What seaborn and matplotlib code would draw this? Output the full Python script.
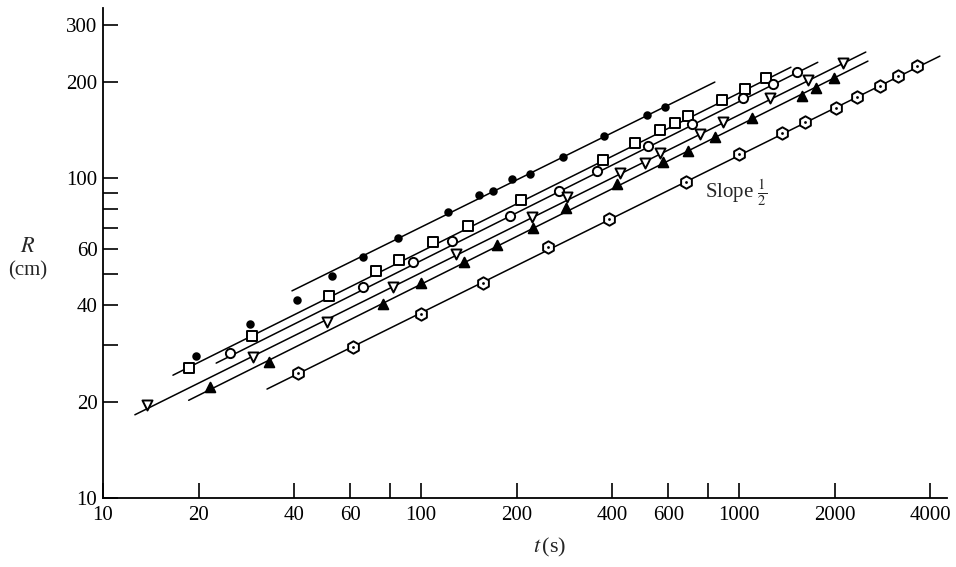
import numpy as np
import pandas as pd
import matplotlib
matplotlib.use("Agg")
import matplotlib.pyplot as plt
from matplotlib.ticker import FixedLocator, FixedFormatter, NullLocator
import seaborn as sns

# --- data: time t (s) and radius R (cm) ---
dots_t = [19.6, 29.0, 40.7, 52.5, 65.7, 84.7, 122, 152, 168, 194, 220, 280, 376, 514, 585]
dots_R = [27.8, 35.0, 41.6, 49.4, 56.6, 64.9, 78.3, 88.5, 91.0, 99.3, 103, 116, 135, 157, 167]

squares_t = [18.6, 29.4, 51.4, 72.2, 85.3, 109, 141, 206, 373, 471, 564, 629, 691, 884, 1044, 1216]
squares_R = [25.5, 32.1, 42.8, 51.2, 55.5, 63.1, 70.8, 85.3, 113.7, 128.5, 141.3, 148.6, 156.3, 175.4, 189.8, 205.4]

circles_t = [25.1, 65.7, 94.4, 125, 190, 272, 358, 518, 711, 1029, 1279, 1522]
circles_R = [28.4, 45.6, 54.6, 63.5, 76.0, 91.0, 105, 125.9, 147.5, 177.8, 196.6, 214]

tri_down_t = [13.75, 29.6, 50.6, 81.7, 129, 223, 288, 422, 506, 564, 753, 890, 1252, 1648, 2123]
tri_down_R = [19.5, 27.6, 35.5, 45.6, 57.9, 75.5, 87.2, 103.6, 111.4, 119.8, 137.2, 149.6, 177.8, 202.5, 228.5]

tri_up_t = [21.7, 33.3, 76.0, 100, 136.5, 173, 225, 286, 413, 577, 691, 840, 1099, 1578, 1747, 1990]
tri_up_R = [22.2, 26.6, 40.4, 47.0, 54.6, 61.7, 69.8, 80.6, 95.7, 112.2, 121.4, 134.4, 154, 180.4, 191, 205.4]

hex_t = [41.0, 61.1, 100, 157, 251, 390, 681, 1000, 1365, 1613, 2018, 2350, 2776, 3162, 3631]
hex_R = [24.6, 29.6, 37.6, 47.0, 60.8, 74.5, 97.2, 118.9, 138.2, 149.6, 165.5, 179.2, 194, 208.4, 224]

# fitted slope-1/2 lines: end points (t, R)
line_dots = ([39.3, 840], [44.4, 199.5])
line_squares = ([16.6, 1457], [24.2, 222])
line_circles = ([22.7, 1770], [26.4, 230])
line_tri_down = ([12.6, 2506], [18.2, 247.6])
line_tri_up = ([18.6, 2545], [20.2, 232])
line_hex = ([32.8, 4285], [21.9, 240.5])

x_ticks = [10, 20, 40, 60, 80, 100, 200, 400, 600, 800, 1000, 2000, 4000]
x_labels = ["10", "20", "40", "60", "", "100", "200", "400", "600", "", "1000", "2000", "4000"]
y_ticks = [10, 20, 30, 40, 50, 60, 70, 80, 90, 100, 200, 300]
y_labels = ["10", "20", "", "40", "", "60", "", "", "", "100", "200", "300"]


def main():
    sns.set_style("ticks")
    plt.rcParams["font.family"] = ["Liberation Serif", "DejaVu Serif"]
    plt.rcParams["mathtext.fontset"] = "stix"

    fig = plt.figure(figsize=(9.56, 5.67), dpi=100)
    ax = fig.add_axes([0.1077, 0.1217, 0.8825, 0.8642])

    # lines first, markers on top
    for lx, ly in [line_dots, line_squares, line_circles, line_tri_down, line_tri_up, line_hex]:
        sns.lineplot(x=lx, y=ly, color="black", linewidth=1.1, ax=ax, zorder=2)

    marker_specs = [
        (dots_t, dots_R, "o", 22, "black"),
        (squares_t, squares_R, "s", 48, "white"),
        (circles_t, circles_R, "o", 44, "white"),
        (tri_down_t, tri_down_R, "v", 52, "white"),
        (tri_up_t, tri_up_R, "^", 48, "black"),
        (hex_t, hex_R, "h", 80, "white"),
    ]
    for tx, ry, mk, size, face in marker_specs:
        sns.scatterplot(x=tx, y=ry, marker=mk, s=size, facecolor=face,
                        edgecolor="black", linewidth=1.4, ax=ax, zorder=3)
    # centre dot of the hexagon markers
    sns.scatterplot(x=hex_t, y=hex_R, marker="o", s=4, color="black",
                    edgecolor="black", linewidth=0, ax=ax, zorder=4)

    ax.set_xscale("log")
    ax.set_yscale("log")
    ax.set_xlim(10, 4500)
    ax.set_ylim(10, 340)

    ax.xaxis.set_major_locator(FixedLocator(x_ticks))
    ax.xaxis.set_major_formatter(FixedFormatter(x_labels))
    ax.yaxis.set_major_locator(FixedLocator(y_ticks))
    ax.yaxis.set_major_formatter(FixedFormatter(y_labels))
    ax.xaxis.set_minor_locator(NullLocator())
    ax.yaxis.set_minor_locator(NullLocator())

    ax.tick_params(axis="both", which="major", direction="in", length=11,
                   width=1.2, color="black", labelsize=15, labelcolor="black",
                   bottom=True, left=True, top=False, right=False)
    ax.tick_params(axis="x", pad=6)
    ax.tick_params(axis="y", pad=4)

    for side in ["top", "right"]:
        ax.spines[side].set_visible(False)
    for side in ["left", "bottom"]:
        ax.spines[side].set_color("black")
        ax.spines[side].set_linewidth(1.3)

    ax.set_xlabel("")
    ax.set_ylabel("")
    fig.text(28 / 956, 1 - 248 / 567, "$R$", fontsize=16, ha="center", va="center")
    fig.text(28 / 956, 1 - 271 / 567, "(cm)", fontsize=15, ha="center", va="center")
    fig.text(550 / 956, 1 - 547 / 567, r"$t\,$(s)", fontsize=16, ha="center", va="center")

    ax.text(782, 90, r"Slope $\frac{1}{2}$", fontsize=15, ha="left", va="center")

    fig.savefig("out.png", dpi=100, facecolor="white")


if __name__ == "__main__":
    main()
